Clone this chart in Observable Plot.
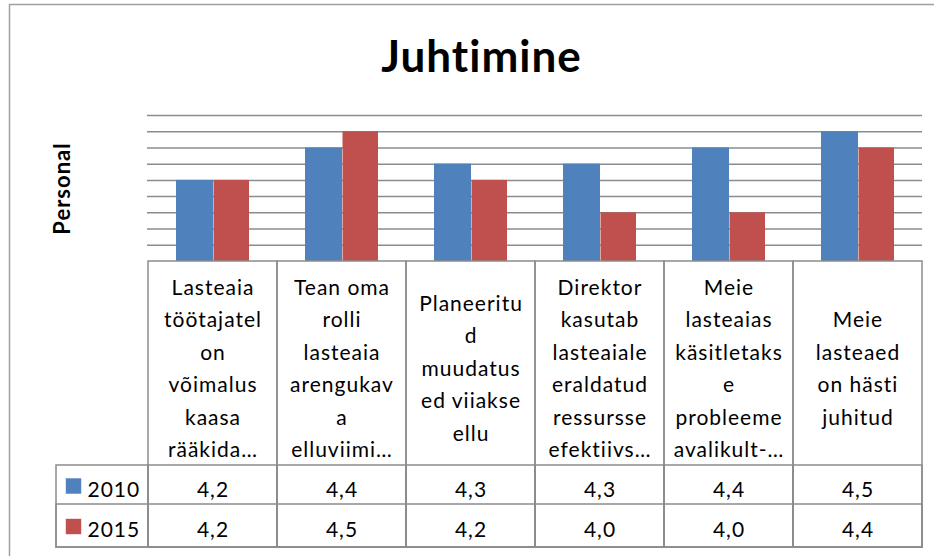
<!DOCTYPE html>
<html>
<head>
<meta charset="utf-8">
<script src="https://cdn.jsdelivr.net/npm/d3@7"></script>
<script src="https://cdn.jsdelivr.net/npm/@observablehq/plot@0.6"></script>
<style>
html, body { margin: 0; padding: 0; background: #fff; overflow: hidden; }
#chart svg text { letter-spacing: 1px; }
</style>
</head>
<body>
<div id="chart"></div>
<script>
const title = "Juhtimine";
const yLabel = "Personal";
const categories = [
  "Lasteaia\ntöötajatel\non\nvõimalus\nkaasa\nrääkida…",
  "Tean oma\nrolli\nlasteaia\narengukav\na\nelluviimi…",
  "Planeeritu\nd\nmuudatus\ned viiakse\nellu",
  "Direktor\nkasutab\nlasteaiale\neraldatud\nressursse\nefektiivs…",
  "Meie\nlasteaias\nkäsitletaks\ne\nprobleeme\navalikult-…",
  "Meie\nlasteaed\non hästi\njuhitud"
];
const seriesNames = ["2010", "2015"];
const values2010 = [4.2, 4.4, 4.3, 4.3, 4.4, 4.5];
const values2015 = [4.2, 4.5, 4.2, 4.0, 4.0, 4.4];
const yDomain = [3.7, 4.6];
const yTicks = [3.8, 3.9, 4.0, 4.1, 4.2, 4.3, 4.4, 4.5, 4.6];
const colors = ["#4F81BD", "#C0504D"];

const seriesValues = [values2010, values2015];
const table = seriesNames.flatMap((s, i) =>
  categories.map((c, j) => ({category: c, series: s, value: seriesValues[i][j]}))
);
const fmt = v => v.toFixed(1).replace(".", ",");
const grid = "#8c8c8c";
const bandW = 775 / 6;

const rowDy = [229, 269];
const swatchDy = [224.5, 265];
const barInsets = [[28, 64], [65.5, 28]];

const marks = [
  Plot.frame({stroke: "#a0a0a0", strokeWidth: 1.5, insetLeft: -138, insetTop: -111, insetRight: -40, insetBottom: -340}),
  Plot.ruleY(yTicks, {stroke: grid, strokeWidth: 1.5}),
  ...seriesNames.map((s, i) => Plot.barY(table.filter(d => d.series === s), {
    x: "category", y1: yDomain[0], y2: "value", fill: colors[i],
    insetLeft: barInsets[i][0], insetRight: barInsets[i][1]
  })),
  // data table grid
  Plot.cell(categories, {x: d => d, fill: "none", stroke: grid, strokeWidth: 1.5, insetTop: 146, insetBottom: -286}),
  Plot.cell(categories, {x: d => d, fill: "none", stroke: grid, strokeWidth: 1.5, insetTop: 350, insetBottom: -286}),
  Plot.cell(categories, {x: d => d, fill: "none", stroke: grid, strokeWidth: 1.5, insetTop: 389, insetBottom: -286}),
  Plot.cell([categories[0]], {x: d => d, fill: "none", stroke: grid, strokeWidth: 1.5, insetLeft: -92, insetRight: bandW, insetTop: 350, insetBottom: -286}),
  Plot.cell([categories[0]], {x: d => d, fill: "none", stroke: grid, strokeWidth: 1.5, insetLeft: -92, insetRight: bandW, insetTop: 389, insetBottom: -286}),
  // category labels
  Plot.text(categories, {x: d => d, text: d => d, frameAnchor: "bottom", dy: 104, lineAnchor: "middle", lineHeight: 1.55, fontSize: 21, fill: "#000"}),
  // values
  ...seriesNames.map((s, i) => Plot.text(table.filter(d => d.series === s), {
    x: "category", text: d => fmt(d.value), frameAnchor: "bottom", dy: rowDy[i], lineAnchor: "middle", fontSize: 21, fill: "#000"
  })),
  // legend in table
  ...seriesNames.map((s, i) => Plot.dot([s], {
    x: () => categories[0], frameAnchor: "bottom", dx: -139.5, dy: swatchDy[i], symbol: "square", r: 8.7, fill: colors[i]
  })),
  ...seriesNames.map((s, i) => Plot.text([s], {
    x: () => categories[0], text: d => d, frameAnchor: "bottom", dx: -125.5, dy: rowDy[i], textAnchor: "start", lineAnchor: "middle", fontSize: 21, fill: "#000"
  })),
  // title and y label
  Plot.text([title], {text: d => d, frameAnchor: "top", dx: -53.5, dy: -58, lineAnchor: "middle", fontSize: 44, fontWeight: "bold", fill: "#000"}),
  Plot.text([yLabel], {text: d => d, frameAnchor: "left", dx: -85, rotate: -90, textAnchor: "middle", lineAnchor: "middle", fontSize: 22, fontWeight: "bold", fill: "#000"})
];

const chart = Plot.plot({
  width: 934,
  height: 556,
  marginLeft: 147,
  marginRight: 12,
  marginTop: 115,
  marginBottom: 295,
  style: {fontFamily: "Lato, sans-serif", fontSize: "21px", background: "white", color: "#000"},
  x: {domain: categories, padding: 0, axis: null},
  y: {domain: yDomain, axis: null},
  marks
});
document.getElementById("chart").appendChild(chart);
</script>
</body>
</html>
